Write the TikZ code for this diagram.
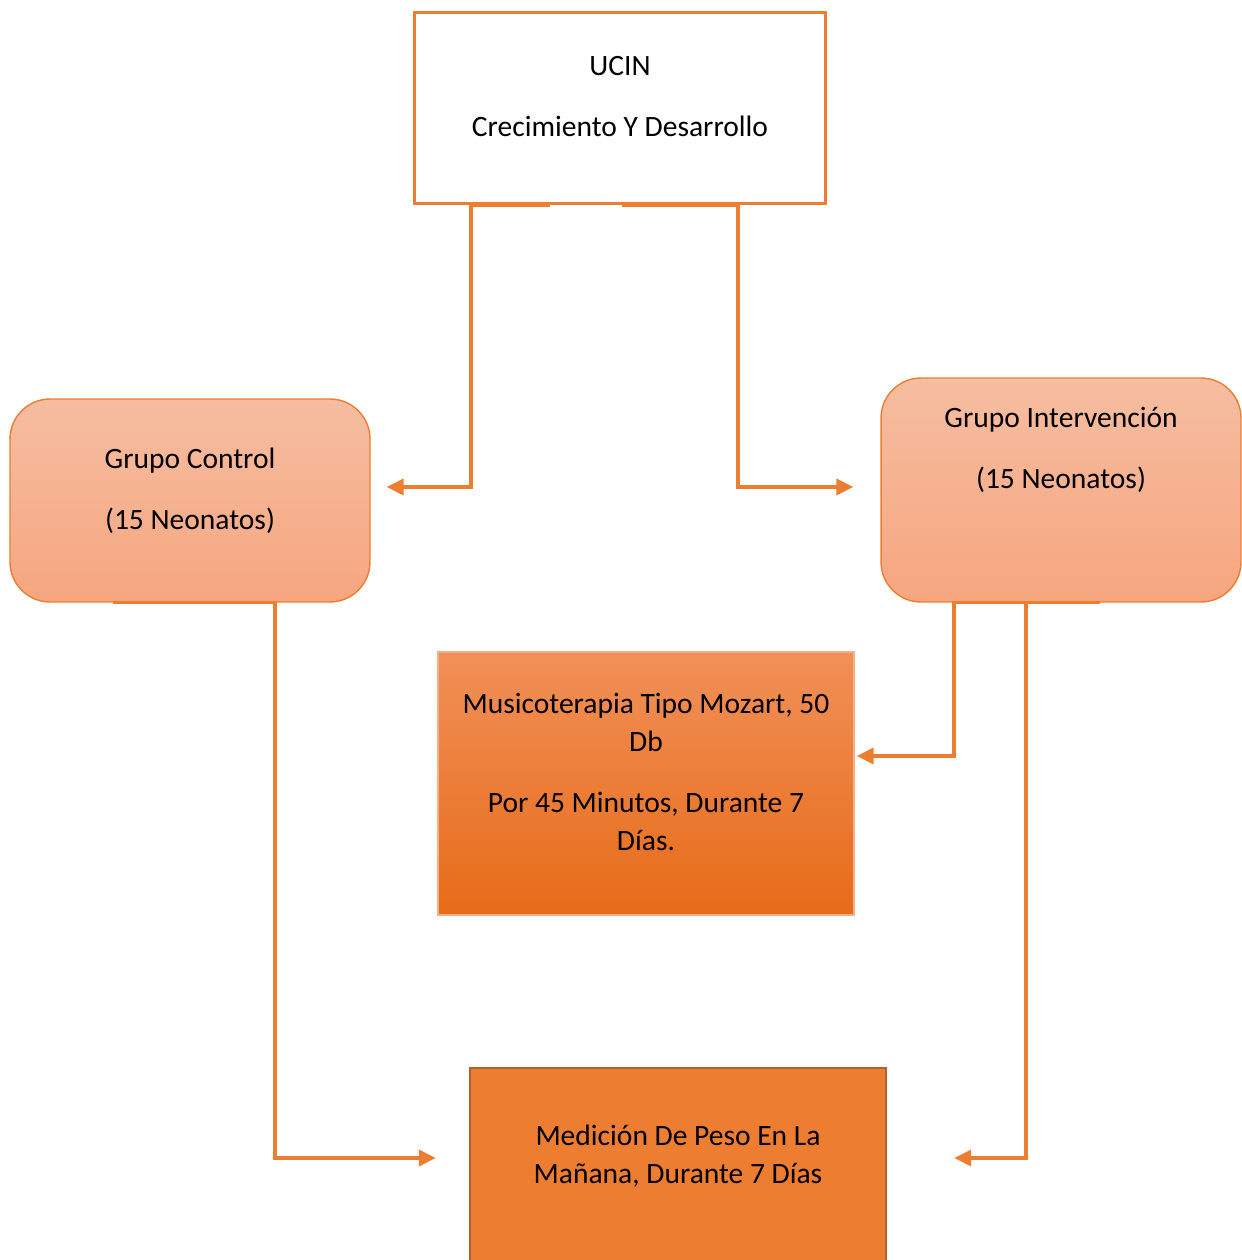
\documentclass[tikz,border=0pt]{standalone}
\usepackage{fontspec}
\setmainfont{Carlito}
\usetikzlibrary{arrows.meta}
\definecolor{naranja}{HTML}{ED7D31}
\definecolor{naranjaosc}{HTML}{B0602A}
\definecolor{salmonA}{HTML}{F6BDA1}
\definecolor{salmonB}{HTML}{F6A67F}
\definecolor{musA}{HTML}{F19058}
\definecolor{musB}{HTML}{E76B18}
\definecolor{musborde}{HTML}{F5B08A}
\tikzstyle{texto} = [align=center, font=\fontsize{16.8}{21.6}\selectfont]
\tikzstyle{caja} = [draw=naranja, line width=0.06cm, fill=white]
\tikzstyle{grupo} = [draw=naranja, line width=0.8pt, rounded corners=0.8cm, top color=salmonA, bottom color=salmonB]
\tikzstyle{flecha} = [->, draw=naranja, line width=0.07cm]

\begin{document}
\begin{tikzpicture}[x=0.02cm,y=-0.02cm,>={Triangle[length=0.34cm,width=0.32cm]}]
	\useasboundingbox (0,0) rectangle (1241,1260);
	% cajas
	\node[caja, minimum width=8.24cm, minimum height=3.84cm] (ucin) at (620,108) {};
	\node[grupo, minimum width=7.2cm, minimum height=4.06cm] (control) at (190,500.5) {};
	\node[grupo, minimum width=7.2cm, minimum height=4.48cm] (interv) at (1061,490) {};
	\node[draw=musborde, line width=0.8pt, top color=musA, bottom color=musB,
		minimum width=8.32cm, minimum height=5.26cm] (musica) at (646,783.5) {};
	\node[draw=naranjaosc, line width=0.05cm, fill=naranja,
		minimum width=8.32cm, minimum height=4.44cm] (medicion) at (678,1179) {};
	% textos
	\node[texto] (ucin-t) at (620,96.5) {UCIN\\[13pt]Crecimiento Y Desarrollo};
	\node[texto] (control-t) at (190,491) {Grupo Control\\[13pt](15 Neonatos)};
	\node[texto] (interv-t) at (1061,450) {Grupo Intervención\\[13pt](15 Neonatos)};
	\node[texto] (musica-t) at (646,772) {Musicoterapia Tipo Mozart, 50\\Db\\[13pt]Por 45 Minutos, Durante 7\\Días.};
	\node[texto] (medicion-t) at (678,1156) {Medición De Peso En La\\Mañana, Durante 7 Días};
	% conectores
	\draw[flecha] ([xshift=-1.4cm]ucin.south) -- ++(-1.58cm,0) |- ([xshift=0.32cm,yshift=0.27cm]control.east);
	\draw[flecha] ([xshift=0.04cm]ucin.south) -- ++(2.32cm,0) |- ([xshift=-0.54cm,yshift=0.06cm]interv.west);
	\draw[flecha] ([xshift=-1.54cm]control.south) -- ++(3.24cm,0) |- ([xshift=-0.66cm,yshift=0.42cm]medicion.west);
	\draw[flecha] ([xshift=-0.2cm]interv.south) -- ++(-1.94cm,0) |- ([xshift=0.04cm,yshift=0.55cm]musica.east);
	\draw[flecha] ([xshift=0.78cm]interv.south) -- ++(-1.48cm,0) |- ([xshift=1.34cm,yshift=0.42cm]medicion.east);
\end{tikzpicture}
\end{document}
